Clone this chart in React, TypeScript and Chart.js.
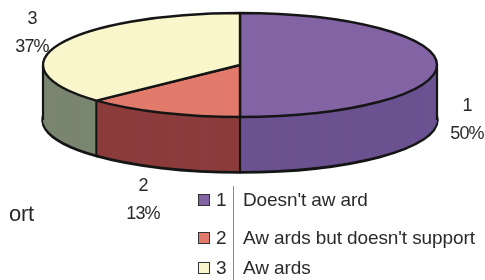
import React, { useEffect, useRef } from "react";
import { Chart, registerables } from "chart.js";
Chart.register(...registerables);

const categories = ["1", "2", "3"];
const categoryNames = ["Doesn't aw ard", "Aw ards but doesn't support", "Aw ards"];
const values = [50, 13, 37];
const topColors = ["#8264a4", "#e27a6c", "#faf6cc"];
const sideColors = ["#6b5290", "#8c3c3c", "#7a8670"];

const CX = 240, CY = 65, RX = 197, RY = 52, DEPTH = 55;

const pie3d = {
  id: "pie3d",
  beforeDatasetsDraw(chart: any) {
    const ctx = chart.ctx;
    const arcs = chart.getDatasetMeta(0).data;
    if (!arcs.length) return false;
    const { x, y, outerRadius: R } = arcs[0].getProps(["x", "y", "outerRadius"], true);
    const sx = RX / R, sy = RY / R;
    const base = ctx.getTransform();
    const origStroke = ctx.stroke;
    ctx.stroke = function (...a: any[]) {
      ctx.save();
      ctx.setTransform(base);
      origStroke.apply(ctx, a);
      ctx.restore();
    };
    const drawLayer = (dy: number, colors: string[], bw: number) => {
      ctx.save();
      ctx.setTransform(base.a * sx, 0, 0, base.d * sy, base.e + (CX - x * sx) * base.a, base.f + (CY + dy - y * sy) * base.d);
      arcs.forEach((el: any, i: number) => {
        const o = el.options;
        el.options = { ...o, backgroundColor: colors[i], borderWidth: bw, borderColor: "#151515", offset: 0 };
        el.draw(ctx, chart.chartArea);
        el.options = o;
      });
      ctx.restore();
    };
    drawLayer(DEPTH, sideColors, 3.5);
    for (let d = DEPTH - 1; d >= 1; d--) drawLayer(d, sideColors, 0);
    ctx.save();
    ctx.setTransform(base);
    ctx.strokeStyle = "#151515";
    ctx.lineWidth = 2.2;
    const edgeAngles: number[] = [0, Math.PI];
    arcs.forEach((el: any) => edgeAngles.push(el.startAngle));
    edgeAngles.forEach((a) => {
      if (Math.sin(a) < -0.001) return;
      const px = CX + RX * Math.cos(a);
      const py = CY + RY * Math.sin(a);
      ctx.beginPath();
      ctx.moveTo(px, py);
      ctx.lineTo(px, py + DEPTH);
      origStroke.call(ctx);
    });
    ctx.restore();
    drawLayer(0, topColors, 2.4);
    ctx.stroke = origStroke;
    return false;
  },
};

const total = values.reduce((a, b) => a + b, 0);
const pct = (v: number) => Math.round((v / total) * 100) + "%";

const font = "'Liberation Sans', Arial, sans-serif";
const labelPos = [
  { x: 467, y: 91 },
  { x: 143, y: 171 },
  { x: 32, y: 4 },
];
const legendRows = [200, 238, 268];

export default function App() {
  const ref = useRef<HTMLCanvasElement>(null);
  useEffect(() => {
    const chart = new Chart(ref.current!, {
      type: "pie",
      data: {
        labels: categories,
        datasets: [{ data: values, backgroundColor: topColors }],
      },
      options: {
        responsive: false,
        animation: false,
        events: [],
        plugins: { legend: { display: false }, tooltip: { enabled: false } },
      },
      plugins: [pie3d as any],
    });
    return () => chart.destroy();
  }, []);
  return (
    <div style={{ position: "fixed", left: 0, top: 0, width: 485, height: 280, background: "#fff", overflow: "hidden", fontFamily: font, color: "#2a2a2a" }}>
      <canvas ref={ref} width={485} height={280} style={{ position: "absolute", left: 0, top: 0 }} />
      {categories.map((c, i) => (
        <div key={"l" + i} style={{ position: "absolute", left: labelPos[i].x - 30, top: labelPos[i].y, width: 60, textAlign: "center", fontSize: 18, lineHeight: "28px", letterSpacing: -0.8 }}>
          <div>{c}</div>
          <div>{pct(values[i])}</div>
        </div>
      ))}
      <div style={{ position: "absolute", left: 9, top: 201, height: 22, overflow: "hidden", fontSize: 22, lineHeight: "26px", letterSpacing: -0.3 }}>ort</div>
      <div style={{ position: "absolute", left: 233, top: 186, width: 1, height: 94, background: "#8a8a8a" }} />
      {categories.map((c, i) => (
        <React.Fragment key={"g" + i}>
          <div style={{ position: "absolute", left: 198, top: legendRows[i] - 6, width: 10, height: 10, background: topColors[i], border: "1.5px solid #333" }} />
          <div style={{ position: "absolute", left: 216, top: legendRows[i] - 12, fontSize: 19, lineHeight: "24px" }}>{c}</div>
          <div style={{ position: "absolute", left: 243, top: legendRows[i] - 12, fontSize: 19, lineHeight: "24px", whiteSpace: "nowrap", letterSpacing: -0.1 }}>{categoryNames[i]}</div>
        </React.Fragment>
      ))}
    </div>
  );
}
